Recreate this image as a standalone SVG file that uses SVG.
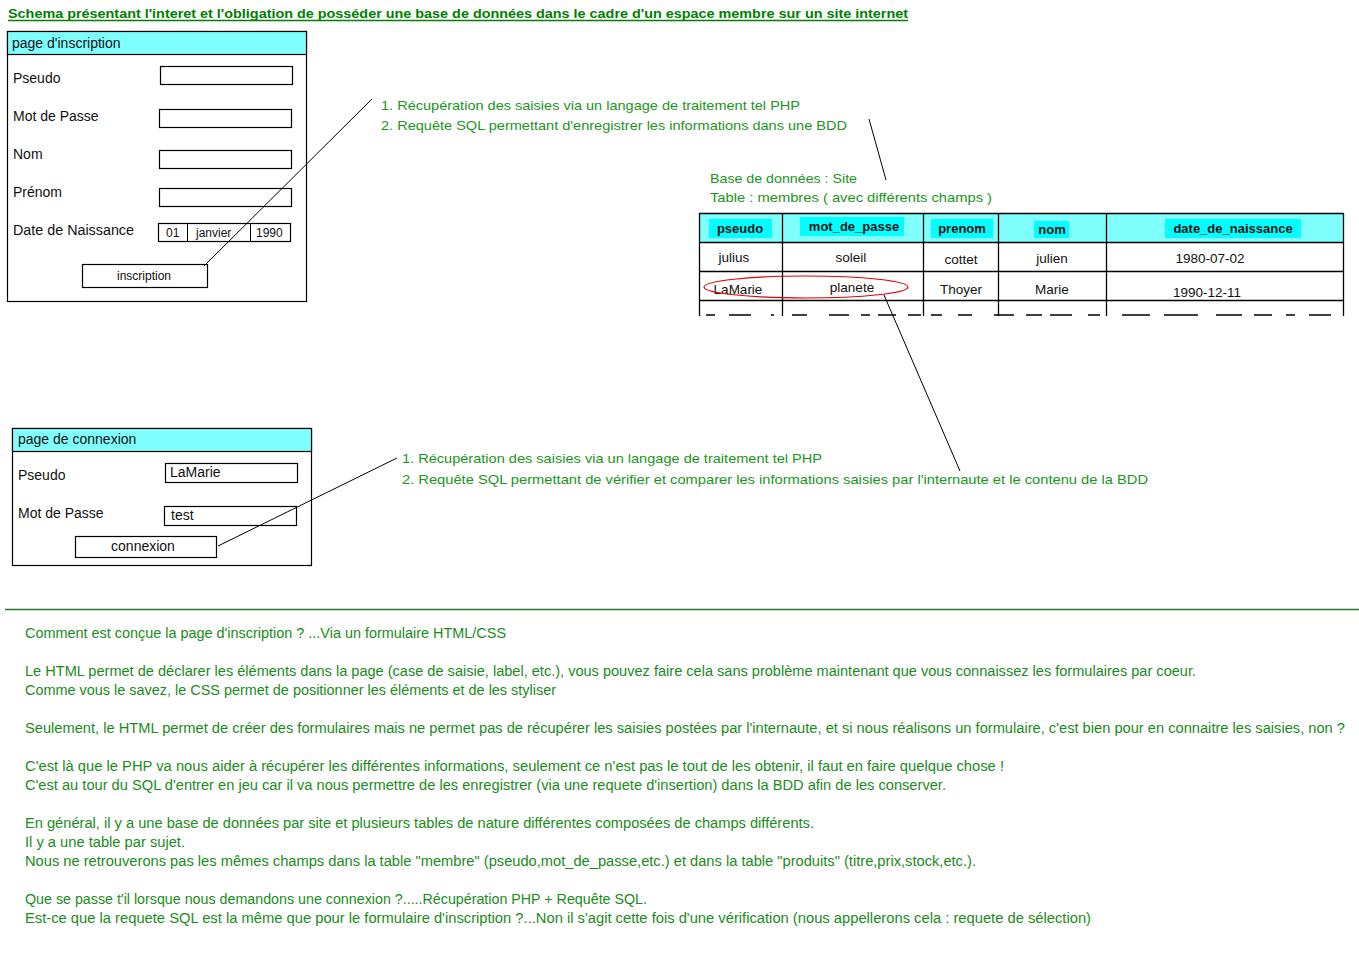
<svg xmlns="http://www.w3.org/2000/svg" width="1359" height="966" viewBox="0 0 1359 966">
<style>
text{font-family:"Liberation Sans","DejaVu Sans",sans-serif;}
.lbl{font-size:14px;fill:#111;}
.sm{font-size:12px;fill:#111;}
.box{fill:#fff;stroke:#000;stroke-width:1.2;}
.hdr{fill:#80ffff;stroke:#000;stroke-width:1.2;}
.ann{font-size:13.5px;fill:#1a961a;}
.body{font-size:14px;fill:#1a8c1a;}
.th{font-size:13px;font-weight:bold;fill:#111;text-anchor:middle;}
.td{font-size:13.5px;fill:#111;text-anchor:middle;}
.hl{fill:#00ffff;}
.conn{stroke:#000;stroke-width:1;fill:none;}
</style>
<rect width="1359" height="966" fill="#fff"/>
<text x="8" y="18" font-size="13" font-weight="bold" fill="#008000" textLength="900" lengthAdjust="spacingAndGlyphs">Schema présentant l'interet et l'obligation de posséder une base de données dans le cadre d'un espace membre sur un site internet</text>
<line x1="8" y1="20.5" x2="908" y2="20.5" stroke="#008000" stroke-width="1.3"/>

<g id="page-inscription">
<rect class="box" x="7.5" y="31.5" width="299" height="270"/>
<rect class="hdr" x="7.5" y="31.5" width="299" height="23"/>
<text class="lbl" x="12" y="48">page d'inscription</text>
<text class="lbl" x="13" y="83">Pseudo</text>
<rect class="box" x="160.5" y="66.5" width="132" height="18"/>
<text class="lbl" x="13" y="121">Mot de Passe</text>
<rect class="box" x="159.5" y="109.5" width="132" height="18"/>
<text class="lbl" x="13" y="159">Nom</text>
<rect class="box" x="159.5" y="150.5" width="132" height="18"/>
<text class="lbl" x="13" y="197">Prénom</text>
<rect class="box" x="159.5" y="188.5" width="132" height="18"/>
<text class="lbl" x="13" y="235" textLength="121" lengthAdjust="spacingAndGlyphs">Date de Naissance</text>
<rect class="box" x="158.5" y="223.5" width="132" height="18"/>
<line x1="187.5" y1="223.5" x2="187.5" y2="241.5" stroke="#000"/>
<line x1="250.5" y1="223.5" x2="250.5" y2="241.5" stroke="#000"/>
<text class="sm" x="166" y="237">01</text>
<text class="sm" x="196" y="237">janvier</text>
<text class="sm" x="256" y="237">1990</text>
<rect class="box" x="82.5" y="264.5" width="125" height="23"/>
<text class="sm" x="144" y="280" text-anchor="middle">inscription</text>
</g>

<g id="annot-inscription">
<text class="ann" x="381" y="110" textLength="419" lengthAdjust="spacingAndGlyphs">1. Récupération des saisies via un langage de traitement tel PHP</text>
<text class="ann" x="381" y="130" textLength="466" lengthAdjust="spacingAndGlyphs">2. Requête SQL permettant d'enregistrer les informations dans une BDD</text>
</g>

<g id="db-label">
<text class="ann" x="710" y="183" textLength="147" lengthAdjust="spacingAndGlyphs">Base de données : Site</text>
<text class="ann" x="710" y="202" textLength="282" lengthAdjust="spacingAndGlyphs">Table : membres ( avec différents champs )</text>
</g>

<g id="table-membres">
<rect x="699.5" y="213.5" width="644" height="29" fill="#80ffff"/>
<rect class="hl" x="709" y="219" width="63" height="19"/>
<rect class="hl" x="800" y="217" width="104" height="19"/>
<rect class="hl" x="931" y="219" width="62" height="19"/>
<rect class="hl" x="1034" y="221" width="35" height="17"/>
<rect class="hl" x="1165" y="219" width="136" height="19"/>
<text class="th" x="740" y="233">pseudo</text>
<text class="th" x="854" y="231">mot_de_passe</text>
<text class="th" x="962" y="233">prenom</text>
<text class="th" x="1052" y="234">nom</text>
<text class="th" x="1233" y="233">date_de_naissance</text>
<g stroke="#000" stroke-width="1.3" fill="none">
<line x1="699" y1="213.5" x2="1344" y2="213.5"/>
<line x1="699" y1="242.5" x2="1344" y2="242.5"/>
<line x1="699" y1="271.5" x2="1344" y2="271.5"/>
<line x1="699" y1="300.5" x2="1344" y2="300.5"/>
<line x1="699.5" y1="213" x2="699.5" y2="316"/>
<line x1="782.5" y1="213" x2="782.5" y2="316"/>
<line x1="923.5" y1="213" x2="923.5" y2="316"/>
<line x1="998.5" y1="213" x2="998.5" y2="316"/>
<line x1="1106.5" y1="213" x2="1106.5" y2="316"/>
<line x1="1343.5" y1="213" x2="1343.5" y2="316"/>
<line x1="706" y1="315" x2="1344" y2="315" stroke-dasharray="9 14 22 20 3 18 15 22 20 12 9 8 18 12 13 10 11 16 14 22 20 12 16 8 22 16 12 22 28 14 34 18 26 12 18 14"/>
</g>
<text class="td" x="734" y="262">julius</text>
<text class="td" x="851" y="262">soleil</text>
<text class="td" x="961" y="264">cottet</text>
<text class="td" x="1052" y="263">julien</text>
<text class="td" x="1210" y="263">1980-07-02</text>
<text class="td" x="738" y="294">LaMarie</text>
<text class="td" x="852" y="292">planete</text>
<text class="td" x="961" y="294">Thoyer</text>
<text class="td" x="1052" y="294">Marie</text>
<text class="td" x="1207" y="297">1990-12-11</text>
<ellipse cx="806" cy="287" rx="102" ry="11" fill="none" stroke="#e00000" stroke-width="1.2"/>
</g>

<g id="page-connexion">
<rect class="box" x="12.5" y="428.5" width="299" height="137"/>
<rect class="hdr" x="12.5" y="428.5" width="299" height="23"/>
<text class="lbl" x="18" y="444">page de connexion</text>
<text class="lbl" x="18" y="480">Pseudo</text>
<rect class="box" x="165.5" y="463.5" width="132" height="19"/>
<text class="lbl" x="170" y="477">LaMarie</text>
<text class="lbl" x="18" y="518">Mot de Passe</text>
<rect class="box" x="164.5" y="506.5" width="132" height="19"/>
<text class="lbl" x="171" y="520">test</text>
<rect class="box" x="75.5" y="536.5" width="141" height="21"/>
<text class="lbl" x="143" y="551" text-anchor="middle" font-size="13">connexion</text>
</g>

<g id="annot-connexion">
<text class="ann" x="402" y="463" textLength="420" lengthAdjust="spacingAndGlyphs">1. Récupération des saisies via un langage de traitement tel PHP</text>
<text class="ann" x="402" y="484" textLength="746" lengthAdjust="spacingAndGlyphs">2. Requête SQL permettant de vérifier et comparer les informations saisies par l'internaute et le contenu de la BDD</text>
</g>

<g id="connectors">
<line class="conn" x1="204" y1="266" x2="372" y2="99"/>
<line class="conn" x1="869" y1="119" x2="886" y2="180"/>
<line class="conn" x1="884" y1="295" x2="960" y2="471"/>
<line class="conn" x1="218" y1="546" x2="397" y2="458"/>
</g>

<line x1="5" y1="609.5" x2="1359" y2="609.5" stroke="#1f7a1f" stroke-width="1.3"/>

<g id="explication">
<text class="body" x="25" y="638" textLength="481" lengthAdjust="spacingAndGlyphs">Comment est conçue la page d'inscription ? ...Via un formulaire HTML/CSS</text>
<text class="body" x="25" y="676" textLength="1171" lengthAdjust="spacingAndGlyphs">Le HTML permet de déclarer les éléments dans la page (case de saisie, label, etc.), vous pouvez faire cela sans problème maintenant que vous connaissez les formulaires par coeur.</text>
<text class="body" x="25" y="695" textLength="531" lengthAdjust="spacingAndGlyphs">Comme vous le savez, le CSS permet de positionner les éléments et de les styliser</text>
<text class="body" x="25" y="733" textLength="1320" lengthAdjust="spacingAndGlyphs">Seulement, le HTML permet de créer des formulaires mais ne permet pas de récupérer les saisies postées par l'internaute, et si nous réalisons un formulaire, c'est bien pour en connaitre les saisies, non ?</text>
<text class="body" x="25" y="771" textLength="979" lengthAdjust="spacingAndGlyphs">C'est là que le PHP va nous aider à récupérer les différentes informations, seulement ce n'est pas le tout de les obtenir, il faut en faire quelque chose !</text>
<text class="body" x="25" y="790" textLength="921" lengthAdjust="spacingAndGlyphs">C'est au tour du SQL d'entrer en jeu car il va nous permettre de les enregistrer (via une requete d'insertion) dans la BDD afin de les conserver.</text>
<text class="body" x="25" y="828" textLength="789" lengthAdjust="spacingAndGlyphs">En général, il y a une base de données par site et plusieurs tables de nature différentes composées de champs différents.</text>
<text class="body" x="25" y="847" textLength="160" lengthAdjust="spacingAndGlyphs">Il y a une table par sujet.</text>
<text class="body" x="25" y="866" textLength="951" lengthAdjust="spacingAndGlyphs">Nous ne retrouverons pas les mêmes champs dans la table "membre" (pseudo,mot_de_passe,etc.) et dans la table "produits" (titre,prix,stock,etc.).</text>
<text class="body" x="25" y="904" textLength="622" lengthAdjust="spacingAndGlyphs">Que se passe t'il lorsque nous demandons une connexion ?.....Récupération PHP + Requête SQL.</text>
<text class="body" x="25" y="923" textLength="1066" lengthAdjust="spacingAndGlyphs">Est-ce que la requete SQL est la même que pour le formulaire d'inscription ?...Non il s'agit cette fois d'une vérification (nous appellerons cela : requete de sélection)</text>
</g>
</svg>
